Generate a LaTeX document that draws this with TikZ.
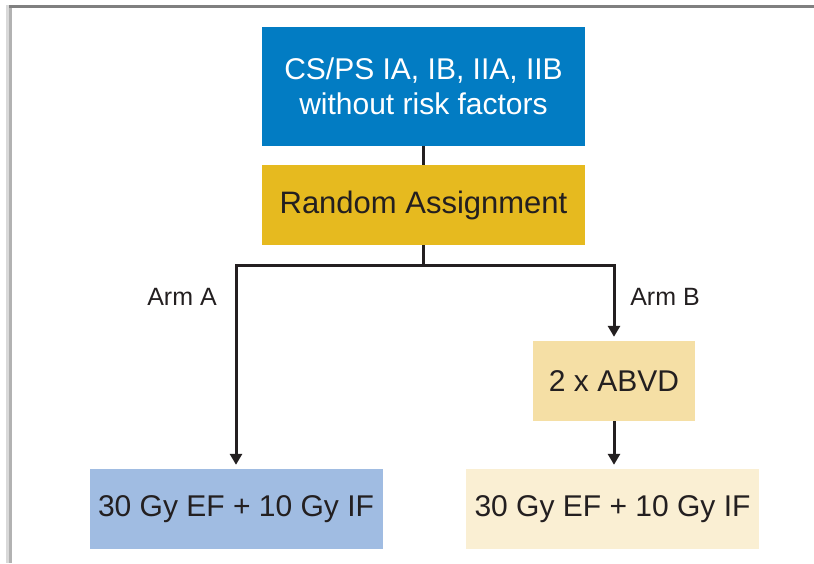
\documentclass[tikz,border=0pt]{standalone}
\usepackage{fontspec}
\setmainfont{Liberation Sans}
\usetikzlibrary{arrows.meta}

\definecolor{stageblue}{RGB}{2,124,195}
\definecolor{randgold}{RGB}{230,186,31}
\definecolor{armblue}{RGB}{160,188,226}
\definecolor{chemosand}{RGB}{245,223,165}
\definecolor{radcream}{RGB}{250,239,211}
\definecolor{inkblack}{RGB}{35,31,32}

\begin{document}
\begin{tikzpicture}[x=1pt, y=-1pt,
		box/.style={inner sep=0pt, align=center, text=inkblack, font=\fontsize{30}{35}\selectfont},
		link/.style={line width=3pt, color=inkblack},
		arr/.style={link, -{Triangle[width=12pt, length=11pt]}, shorten >=4pt},
		armlabel/.style={anchor=base, text=inkblack, font=\fontsize{25}{28}\selectfont}]
		%%%%% START %%%%%
		
		\useasboundingbox (0, 0) rectangle (814, 563);
		
		% frame
		\fill[black!15] (6, 5) rectangle (9, 563);
		\fill[black!30] (9, 5) rectangle (12, 563);
		\fill[black!50] (9, 5) rectangle (814, 8);
		
		\node[box, fill=stageblue, text=white, minimum width=323pt, minimum height=119pt] (stage) at (423.5, 86.5) {CS/PS IA, IB, IIA, IIB\\without risk factors};
		\node[box, fill=randgold, minimum width=323pt, minimum height=80pt, font=\fontsize{31}{35}\selectfont] (random) at (423.5, 205) {Random Assignment};
		
		\coordinate (split) at (423.5, 265);
		
		\node[box, fill=chemosand, minimum width=162pt, minimum height=80pt] (abvd) at (614, 381) {2 x ABVD};
		\node[box, fill=armblue, minimum width=293pt, minimum height=80pt] (radA) at (236, 509) {30 Gy EF + 10 Gy IF};
		\node[box, fill=radcream, minimum width=293pt, minimum height=80pt] (radB) at (612.5, 509) {30 Gy EF + 10 Gy IF};
		
		\node[armlabel] (armA) at (182, 305) {Arm A};
		\node[armlabel] (armB) at (665, 305) {Arm B};
		
		\draw[link] (stage) -- (random);
		\draw[link] (random) -- (split);
		\draw[arr] (split) -| (radA);
		\draw[arr] (split) -| (abvd);
		\draw[arr] (abvd) -- (abvd |- radB.north);
		
		%%%%% END %%%%%
	\end{tikzpicture}
\end{document}
